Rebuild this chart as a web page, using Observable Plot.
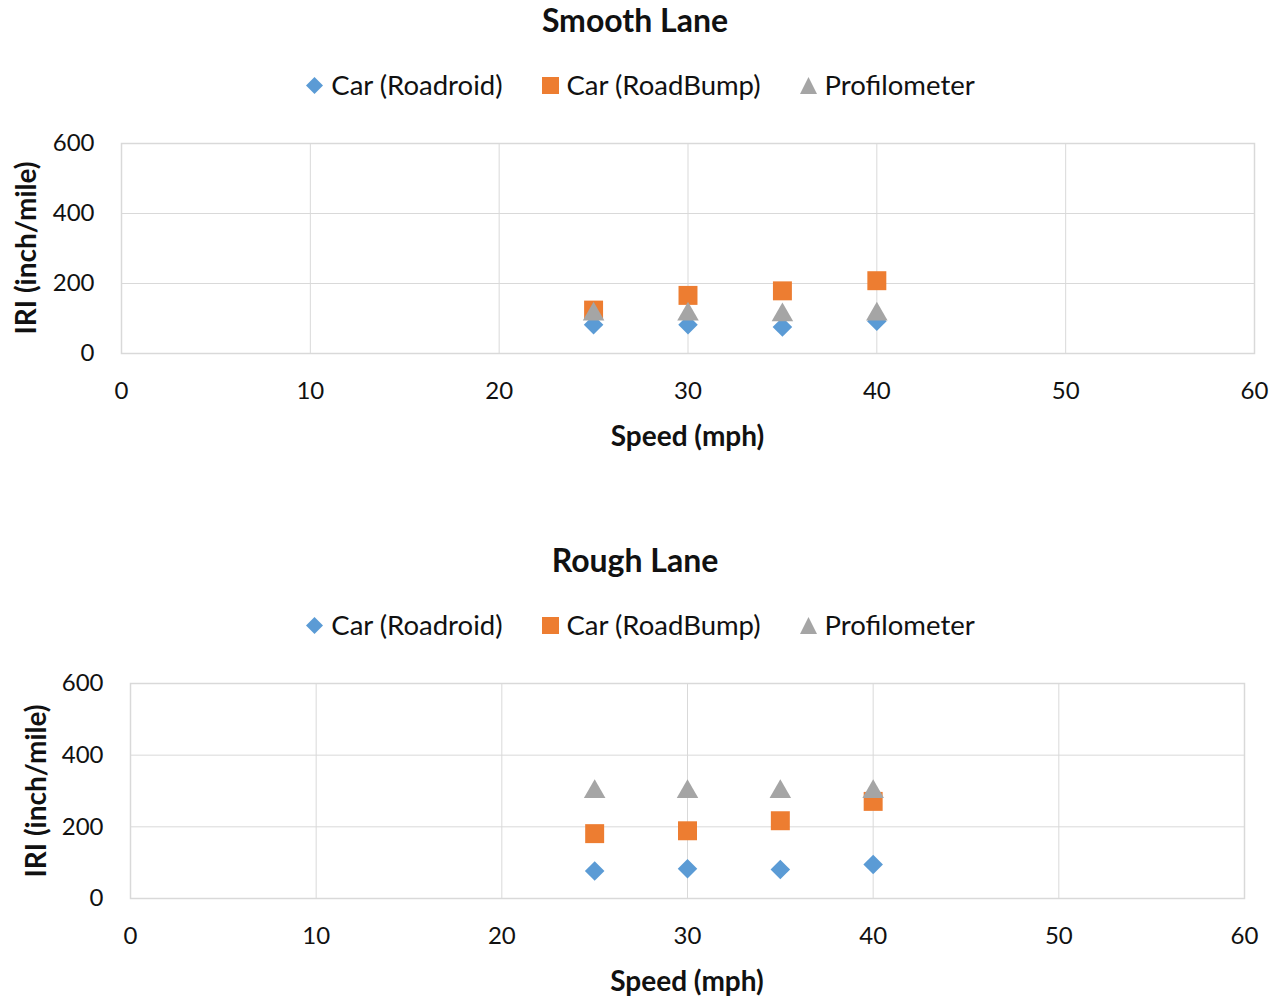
<!DOCTYPE html>
<html>
<head>
<meta charset="utf-8">
<script src="https://cdn.jsdelivr.net/npm/d3@7"></script>
<script src="https://cdn.jsdelivr.net/npm/@observablehq/plot@0.6"></script>
<style>
  body { margin: 0; background: #fff; font-family: Lato, "Open Sans", sans-serif; color: #111; }
  #wrap { position: relative; width: 1282px; height: 997px; overflow: hidden; }
  .abs { position: absolute; line-height: 40px; height: 40px; }
  .title { font-weight: bold; font-size: 32px; width: 1282px; text-align: center; left: -6px; }
  .legend { display: flex; justify-content: center; align-items: center; width: 1282px; left: -1px; font-size: 27.5px; }
  .legend .item { display: flex; align-items: center; margin: 0 19px; }
  .legend svg { margin-right: 7px; }
  .xlab { font-weight: bold; font-size: 28px; text-align: center; }
  .ylab { font-weight: bold; font-size: 28px; transform-origin: center; white-space: nowrap; text-align: center; }
</style>
</head>
<body>
<div id="wrap"></div>
<script>
// ---- data ----
const speeds = [25, 30, 35, 40];
const seriesNames = ["Car (Roadroid)", "Car (RoadBump)", "Profilometer"];
const seriesColors = ["#5b9bd5", "#ed7d31", "#a5a5a5"];
const seriesSymbols = ["diamond2", "square", "triangle"];
const xTicks = [0, 10, 20, 30, 40, 50, 60];
const yTicks = [0, 200, 400, 600];

const smoothRoadroid = [82, 82, 76, 92];
const smoothRoadBump = [124, 166, 179, 208];
const smoothProfilometer = [112, 112, 110, 112];

const roughRoadroid = [77, 83, 81, 95];
const roughRoadBump = [181, 189, 217, 271];
const roughProfilometer = [298, 298, 298, 298];

const charts = [
  { title: "Smooth Lane", series: [smoothRoadroid, smoothRoadBump, smoothProfilometer],
    titleY: 0, legendY: 65, svgTop: 130, height: 330, mL: 121, mR: 28, mT: 13, mB: 107,
    xLabY: 415, yLabX: 25 },
  { title: "Rough Lane", series: [roughRoadroid, roughRoadBump, roughProfilometer],
    titleY: 540, legendY: 605, svgTop: 670, height: 327, mL: 130, mR: 38, mT: 13, mB: 99,
    xLabY: 960, yLabX: 35 }
];

const wrap = document.getElementById("wrap");
const FONT = 'Lato, "Open Sans", sans-serif';

function legendMarker(i) {
  const c = seriesColors[i];
  if (i === 0) return `<svg width="19" height="19" viewBox="0 0 19 19"><path d="M9.5 1 L18 9.5 L9.5 18 L1 9.5 Z" fill="${c}"/></svg>`;
  if (i === 1) return `<svg width="19" height="19" viewBox="0 0 19 19"><rect x="1" y="1" width="17" height="17" fill="${c}"/></svg>`;
  return `<svg width="19" height="19" viewBox="0 0 19 19"><path d="M9.5 1 L18 18 L1 18 Z" fill="${c}"/></svg>`;
}

charts.forEach(ch => {
  const t = document.createElement("div");
  t.className = "abs title";
  t.style.top = ch.titleY + "px";
  t.textContent = ch.title;
  wrap.appendChild(t);

  const lg = document.createElement("div");
  lg.className = "abs legend";
  lg.style.top = ch.legendY + "px";
  lg.innerHTML = seriesNames.map((n, i) => `<div class="item">${legendMarker(i)}<span>${n}</span></div>`).join("");
  wrap.appendChild(lg);

  const rows = [];
  ch.series.forEach((vals, si) => vals.forEach((v, k) => rows.push({ speed: speeds[k], value: v, s: si })));

  const plot = Plot.plot({
    width: 1282, height: ch.height,
    marginLeft: ch.mL, marginRight: ch.mR, marginTop: ch.mT, marginBottom: ch.mB,
    style: { fontFamily: FONT, fontSize: "24px", color: "#111", background: "transparent", overflow: "visible" },
    x: { domain: [0, 60], ticks: xTicks, tickSize: 0, tickPadding: 28, label: null },
    y: { domain: [0, 600], ticks: yTicks, tickSize: 0, tickPadding: 27, label: null },
    marks: [
      Plot.gridX(xTicks, { stroke: "#d9d9d9", strokeOpacity: 1 }),
      Plot.gridY(yTicks, { stroke: "#d9d9d9", strokeOpacity: 1 }),
      Plot.frame({ stroke: "#d9d9d9", strokeWidth: 1.5 }),
      ...[0, 1, 2].map(si => Plot.dot(rows.filter(d => d.s === si), {
        x: "speed", y: "value", symbol: () => seriesSymbols[si], fill: seriesColors[si],
        r: si === 1 ? 10.7 : (si === 0 ? 8.8 : 8)
      }))
    ]
  });
  plot.style.position = "absolute";
  plot.style.left = "0px";
  plot.style.top = ch.svgTop + "px";
  wrap.appendChild(plot);

  const plotLeft = ch.mL, plotRight = 1282 - ch.mR;
  const xl = document.createElement("div");
  xl.className = "abs xlab";
  xl.style.left = plotLeft + "px";
  xl.style.width = (plotRight - plotLeft) + "px";
  xl.style.top = ch.xLabY + "px";
  xl.textContent = "Speed (mph)";
  wrap.appendChild(xl);

  const plotTop = ch.svgTop + ch.mT, plotBottom = ch.svgTop + ch.height - ch.mB;
  const cy = (plotTop + plotBottom) / 2;
  const yl = document.createElement("div");
  yl.className = "abs ylab";
  yl.style.width = "240px";
  yl.style.left = (ch.yLabX - 120) + "px";
  yl.style.top = (cy - 20) + "px";
  yl.style.transform = "rotate(-90deg)";
  yl.textContent = "IRI (inch/mile)";
  wrap.appendChild(yl);
});
</script>
</body>
</html>
